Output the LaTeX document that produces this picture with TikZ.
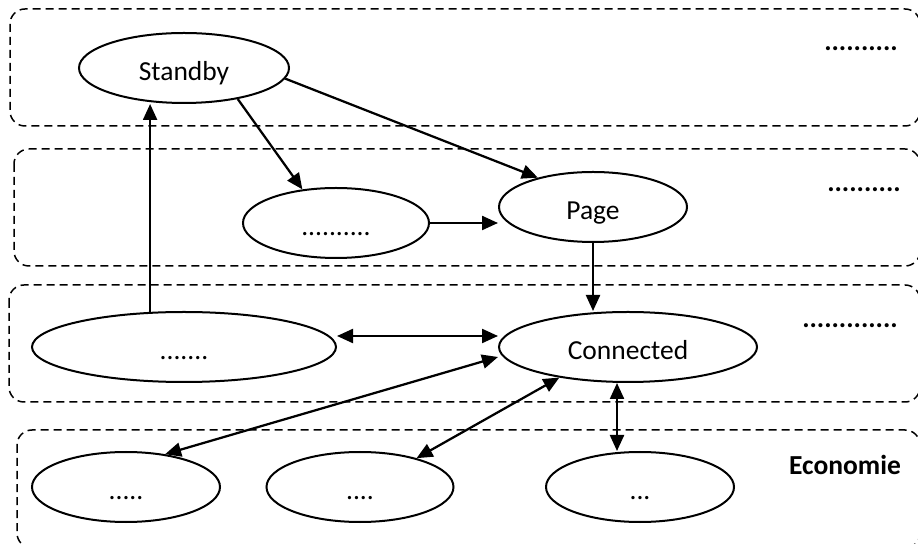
\documentclass[tikz,border=0pt]{standalone}
\usepackage{fontspec}
\setmainfont{Carlito}
\usetikzlibrary{shapes.geometric,arrows.meta}

\begin{document}
\begin{tikzpicture}[x=0.4pt,y=-0.4pt,
    every node/.style={font=\fontsize{11}{13}\selectfont},
    state/.style={draw,ellipse,line width=0.8pt,inner sep=0pt,minimum height=28pt,text height=10.4pt,text depth=0pt},
    layer/.style={draw,dash pattern=on 3.2pt off 2pt,rounded corners=6pt,line width=0.6pt},
    tag/.style={font=\fontsize{11}{13}\selectfont\bfseries},
    link/.style={line width=0.9pt,-{Triangle[length=6.4pt,width=5.6pt]}},
    both/.style={line width=0.9pt,{Triangle[length=6.4pt,width=5.6pt]}-{Triangle[length=6.4pt,width=5.6pt]}}]
    \useasboundingbox (0,0) rectangle (918,544);
    \draw[layer] (10,9) rectangle (920,126);
    \draw[layer] (14,149) rectangle (920,266);
    \draw[layer] (9,285) rectangle (920,402);
    \draw[layer] (17,430) rectangle (920,548);
    \node[state,minimum width=84pt] (standby) at (184,68) {Standby};
    \node[state,minimum width=74.4pt] (dotsb) at (336,223) {..........};
    \node[state,minimum width=75.2pt] (page) at (593,207) {Page};
    \node[state,minimum width=121.6pt] (dotsc) at (184,347) {.......};
    \node[state,minimum width=103.2pt] (connected) at (628,347) {Connected};
    \node[state,minimum width=75.2pt] (eco1) at (126,487) {.....};
    \node[state,minimum width=74.8pt] (eco2) at (360,487) {....};
    \node[state,minimum width=75.2pt] (eco3) at (640,487) {...};
    \node[tag] (t1) at (861,49) {..........};
    \node[tag] (t2) at (864,190) {..........};
    \node[tag] (t3) at (850,326) {.............};
    \node[tag] (t4) at (845,465) {Economie};
    \draw[link] (dotsc.134) -- (dotsc.134 |- standby.south);
    \draw[link] (standby.-30) -- (dotsb.135);
    \draw[link] (standby.-6) -- (page.152);
    \draw[link] (dotsb.east) -- (dotsb.east -| page.west);
    \draw[link] (page.south) -- (page.south |- connected.north);
    \draw[both] ([yshift=4.4pt]dotsc.east) -- ([yshift=4.4pt]connected.west);
    \draw[both] ([yshift=-4pt]connected.west) -- (eco1.40);
    \draw[both] (connected.204) -- (eco2.27);
    \draw[both] ([xshift=-4.4pt]connected.south) -- ([xshift=-4.4pt]connected.south |- eco3.north);
\end{tikzpicture}
\end{document}
